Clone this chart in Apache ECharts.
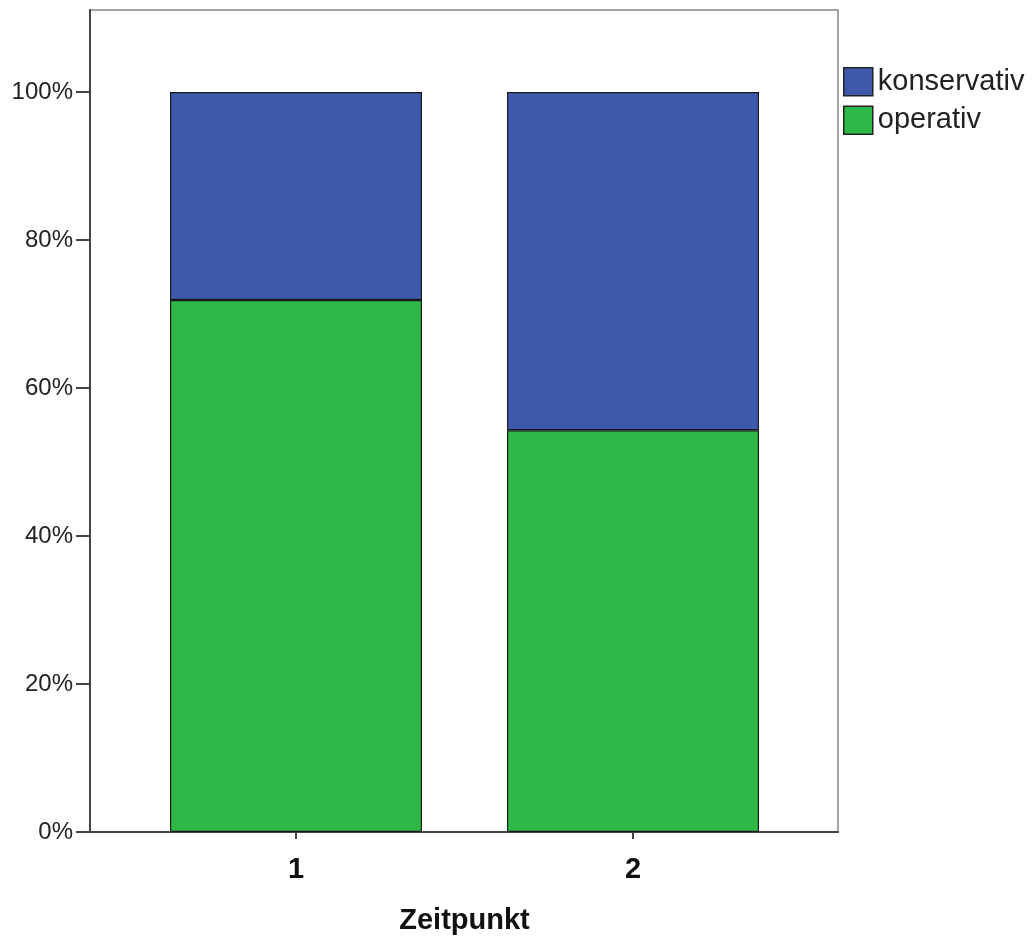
<!DOCTYPE html>
<html><head><meta charset="utf-8">
<script src="https://cdn.jsdelivr.net/npm/echarts@6/dist/echarts.min.js"></script>
<style>html,body{margin:0;padding:0;background:#fff}#c{width:1035px;height:940px}</style>
</head><body><div id="c"></div>
<script>
const categories = ['1', '2'];
const operativ = [71.9, 54.3];
const konservativ = [28.1, 45.7];
const yTicks = [0, 20, 40, 60, 80, 100];
const seriesNames = ['konservativ', 'operativ'];

const font = '"Liberation Sans", Arial, sans-serif';
const chart = echarts.init(document.getElementById('c'), null, {renderer: 'canvas'});
const yMax = 111.08;
chart.setOption({
  animation: false,
  backgroundColor: '#fff',
  grid: [
    {left: 90, top: 10, width: 748, height: 822, show: true, borderColor: '#888', borderWidth: 1.5, containLabel: false, outerBoundsMode: 'none'},
    {left: 127.5, top: 10, width: 674, height: 822, containLabel: false, outerBoundsMode: 'none'}
  ],
  legend: {
    orient: 'vertical', left: 838, top: 62,
    itemWidth: 29, itemHeight: 28, itemGap: 9,
    icon: 'rect',
    data: seriesNames,
    itemStyle: {borderColor: '#222', borderWidth: 1.5},
    textStyle: {fontFamily: font, fontSize: 29, color: '#222'}
  },
  xAxis: [
    {gridIndex: 0, type: 'value', min: 0, max: 1, show: true,
     axisLine: {show: true, lineStyle: {color: '#444', width: 2}},
     axisTick: {show: false}, axisLabel: {show: false}, splitLine: {show: false}},
    {gridIndex: 1, type: 'category', data: categories,
     axisLine: {show: false},
     axisTick: {show: true, alignWithLabel: true, length: 7, lineStyle: {color: '#444', width: 2}},
     axisLabel: {fontFamily: font, fontSize: 29, fontWeight: 'bold', color: '#111', margin: 23},
     name: 'Zeitpunkt', nameLocation: 'middle', nameGap: 74,
     nameTextStyle: {fontFamily: font, fontSize: 29, fontWeight: 'bold', color: '#111'}}
  ],
  yAxis: [
    {gridIndex: 0, type: 'value', min: 0, max: yMax, interval: 20,
     axisLine: {show: true, lineStyle: {color: '#444', width: 2}},
     axisTick: {show: true, length: 14, lineStyle: {color: '#444', width: 2},
                customValues: yTicks},
     axisLabel: {fontFamily: font, fontSize: 24, color: '#222', margin: 17,
                 customValues: yTicks, formatter: '{value}%'},
     splitLine: {show: false}},
    {gridIndex: 1, type: 'value', min: 0, max: yMax, show: false, splitLine: {show: false}}
  ],
  series: [
    {name: 'operativ', type: 'bar', stack: 's', xAxisIndex: 1, yAxisIndex: 1, barWidth: 252,
     data: operativ, itemStyle: {color: '#2eb848', borderColor: '#1a1a1a', borderWidth: 1.2}},
    {name: 'konservativ', type: 'bar', stack: 's', xAxisIndex: 1, yAxisIndex: 1, barWidth: 252,
     data: konservativ, itemStyle: {color: '#3e58ac', borderColor: '#1a1a1a', borderWidth: 1.2}}
  ]
});
</script></body></html>
